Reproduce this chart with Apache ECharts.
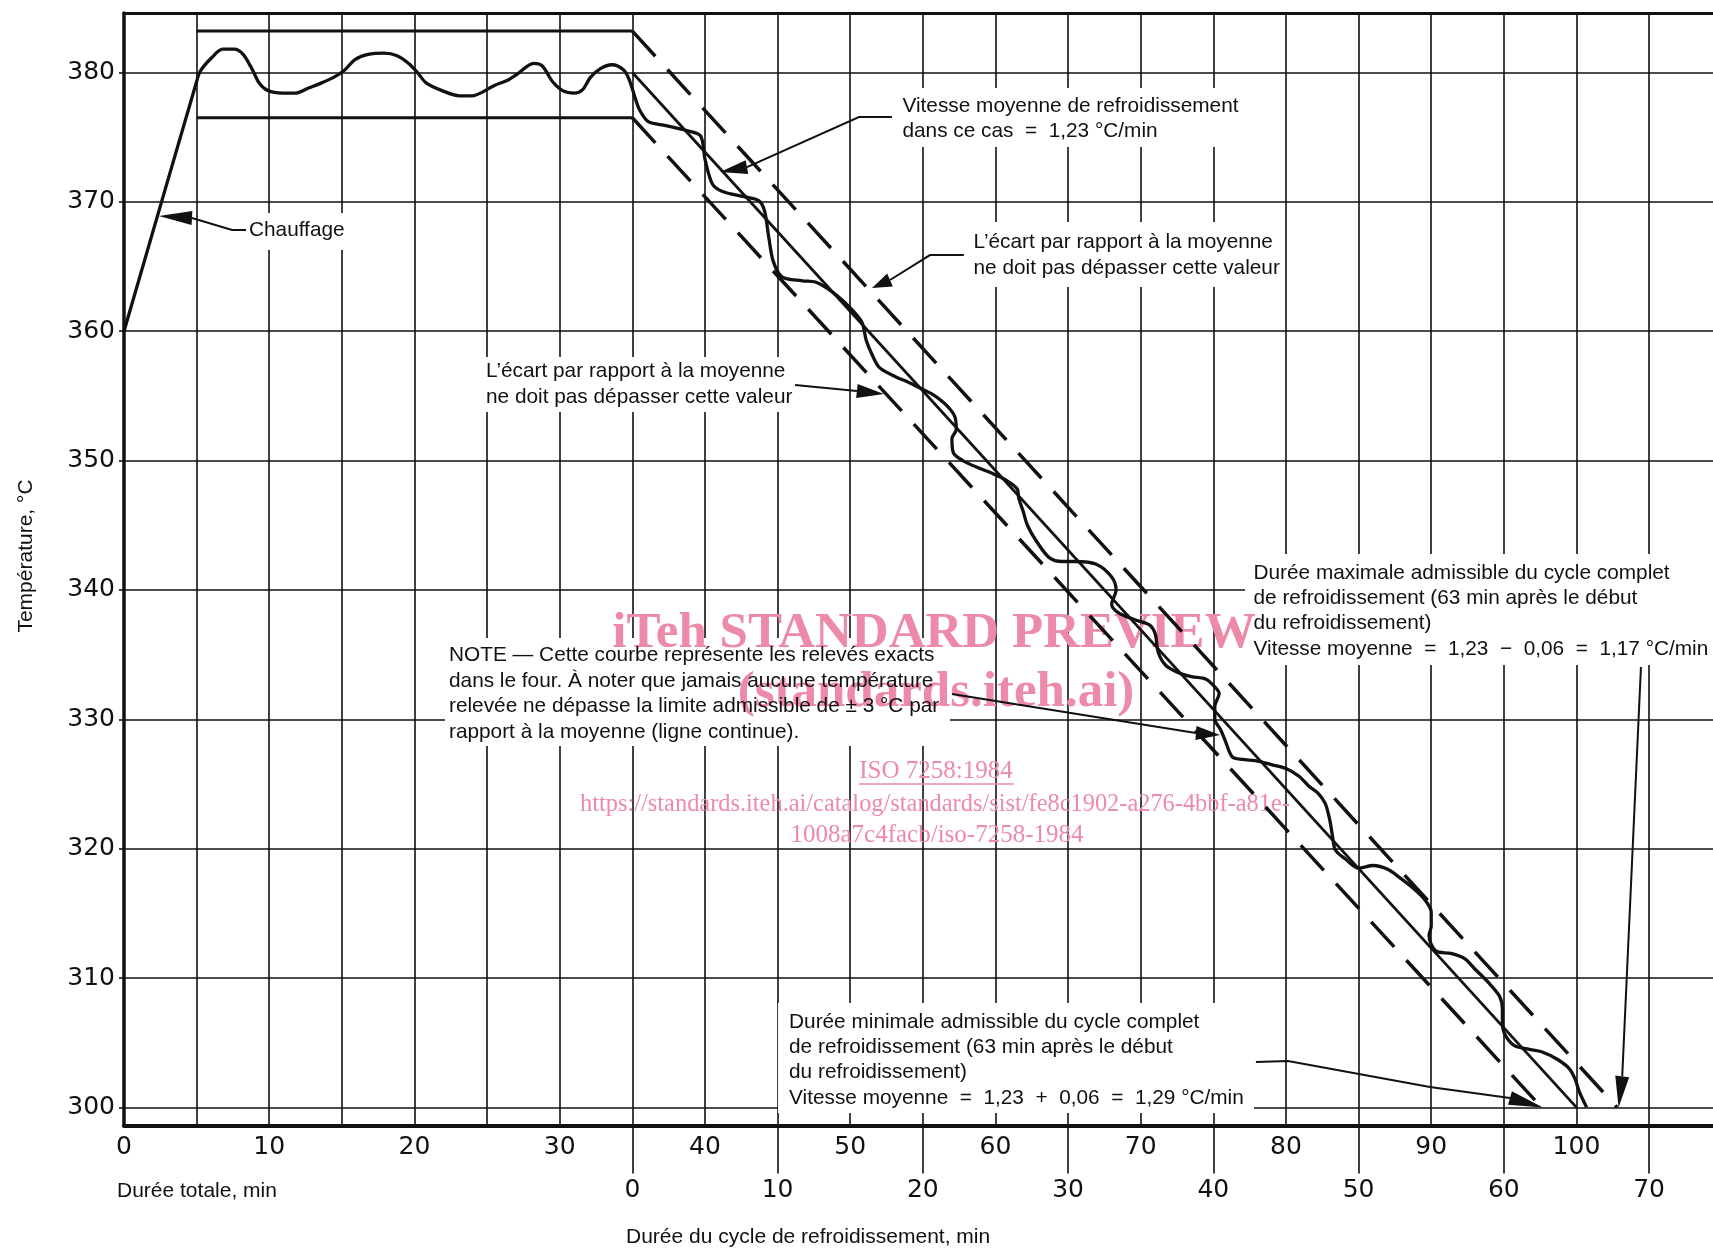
<!DOCTYPE html>
<html>
<head>
<meta charset="utf-8">
<title>Cycle de refroidissement</title>
<script src="https://cdn.jsdelivr.net/npm/echarts@6/dist/echarts.min.js"></script>
<style>
html, body { margin: 0; padding: 0; background: #fff; }
#main { width: 1713px; height: 1250px; }
</style>
</head>
<body>
<div id="main"></div>
<script>
var chartDom = document.getElementById('main');
var myChart = echarts.init(chartDom);
var option;

// axes
var tempTicks = [300, 310, 320, 330, 340, 350, 360, 370, 380];
var totalTicks = [0, 10, 20, 30, 40, 50, 60, 70, 80, 90, 100];
var coolTicks = [0, 10, 20, 30, 40, 50, 60, 70];
var coolStart = 35; // debut du refroidissement (duree totale, min)

// releve du four : [duree totale min, temperature °C]
var measured = [
  [0, 360], [5.0, 379.3], [5.25, 380.1], [6.0, 381.1], [6.8, 381.8], [7.6, 381.8],
  [8.2, 381.4], [8.8, 380.3], [9.3, 379.2], [9.9, 378.6], [10.9, 378.4], [11.8, 378.4],
  [12.7, 378.8], [13.6, 379.2], [14.4, 379.6], [15.2, 380.2], [15.9, 381.0], [16.8, 381.4],
  [17.9, 381.5], [18.8, 381.3], [19.6, 380.7], [20.2, 380.0], [20.8, 379.2], [21.9, 378.6],
  [23.1, 378.2], [24.0, 378.2], [24.7, 378.5], [25.5, 379.0], [26.4, 379.4], [27.1, 379.9],
  [28.2, 380.7], [28.8, 380.5], [29.5, 379.3], [30.2, 378.6], [31.0, 378.4], [31.6, 378.7],
  [32.1, 379.6], [32.8, 380.3], [33.6, 380.6], [34.4, 380.2], [34.8, 379.4], [35.2, 378.0],
  [35.5, 377.1], [36.1, 376.2], [37.3, 375.9], [38.8, 375.5], [39.7, 375.1], [40.0, 373.3],
  [40.5, 371.4], [41.2, 370.8], [42.7, 370.4], [43.7, 370.1], [44.1, 369.3], [44.4, 367.2],
  [44.7, 365.4], [45.3, 364.2], [46.7, 363.9], [47.6, 363.8], [48.8, 363.0], [50.0, 361.8],
  [50.8, 360.7], [51.1, 359.3], [51.5, 358.2], [52.0, 357.2], [52.9, 356.6], [54.1, 356.0],
  [55.0, 355.5], [55.7, 355.1], [56.6, 354.3], [57.2, 353.4], [57.3, 352.4], [57.0, 351.7],
  [57.1, 350.6], [57.75, 350.0], [58.9, 349.4], [59.8, 349.0], [60.7, 348.5], [61.5, 347.8],
  [61.6, 347.1], [61.9, 346.1], [62.2, 345.0], [62.8, 343.8], [63.7, 342.5], [64.6, 342.2],
  [65.5, 342.2], [66.9, 342.0], [68.0, 341.0], [68.3, 340.0], [68.0, 338.9], [68.5, 338.2],
  [69.6, 337.7], [70.6, 337.3], [71.0, 336.6], [71.2, 335.2], [71.7, 334.2], [72.6, 333.6],
  [73.5, 333.3], [74.5, 333.1], [75.1, 332.5], [75.4, 332.0], [75.1, 331.0], [75.1, 330.0],
  [75.5, 329.2], [75.8, 328.4], [76.3, 327.1], [77.0, 326.9], [77.9, 326.8], [79.0, 326.5],
  [80.0, 326.2], [80.9, 325.6], [81.6, 324.8], [82.2, 324.3], [82.7, 323.5], [83.0, 322.3],
  [83.2, 321.0], [83.4, 319.9], [84.1, 319.2], [85.0, 318.5], [86.0, 318.7], [87.0, 318.4],
  [87.9, 317.7], [88.8, 316.9], [89.6, 316.0], [90.0, 315.1], [90.0, 314.0], [89.85, 313.3],
  [90.3, 312.1], [91.35, 311.9], [92.3, 311.5], [93.0, 310.7], [93.9, 309.7], [94.7, 308.6],
  [94.9, 307.6], [94.9, 306.6], [95.05, 305.7], [95.7, 304.8], [96.7, 304.5], [97.6, 304.3],
  [98.7, 303.7], [99.5, 303.0], [99.9, 302.2], [100.2, 301.2], [100.7, 300.0]
];

// tolerance pendant le palier et pendant le refroidissement
var bandUpper = [[5, 383.2], [35, 383.2]];
var bandLower = [[5, 376.5], [35, 376.5]];
var meanLine = [[35, 380], [100, 300]];          // 1,23 °C/min
var limitUpper = [[35, 383.2], [102.8, 300]];
var limitLower = [[35, 376.5], [97.6, 300]];

// textes
var txtChauffage = ['Chauffage'];
var txtVitesse = ['Vitesse moyenne de refroidissement', 'dans ce cas  =  1,23 °C/min'];
var txtEcart = ["L\u2019\u00e9cart par rapport \u00e0 la moyenne", 'ne doit pas d\u00e9passer cette valeur'];
var txtNote = [
  'NOTE \u2014 Cette courbe repr\u00e9sente les relev\u00e9s exacts',
  'dans le four. \u00c0 noter que jamais aucune temp\u00e9rature',
  'relev\u00e9e ne d\u00e9passe la limite admissible de \u00b1 3 \u00b0C par',
  'rapport \u00e0 la moyenne (ligne continue).'
];
var txtMax = [
  'Dur\u00e9e maximale admissible du cycle complet',
  'de refroidissement (63 min apr\u00e8s le d\u00e9but',
  'du refroidissement)',
  'Vitesse moyenne  =  1,23  \u2212  0,06  =  1,17 \u00b0C/min'
];
var txtMin = [
  'Dur\u00e9e minimale admissible du cycle complet',
  'de refroidissement (63 min apr\u00e8s le d\u00e9but',
  'du refroidissement)',
  'Vitesse moyenne  =  1,23  +  0,06  =  1,29 \u00b0C/min'
];

// cartouches (coin haut gauche en unites du graphique)
var notes = [
  { at: [8.33, 369.14], w: 102, h: 37, pad: 4, first: 17.5, lh: 25, lines: txtChauffage },
  { at: [53.08, 378.80], w: 350, h: 59, pad: 7.5, first: 18, lh: 25, lines: txtVitesse },
  { at: [57.97, 368.44], w: 319, h: 65, pad: 7.5, first: 20.5, lh: 26, lines: txtEcart },
  { at: [24.51, 358.01], w: 315, h: 55, pad: 6, first: 14.5, lh: 26, lines: txtEcart },
  { at: [22.10, 336.28], w: 505, h: 108, pad: 4, first: 17.5, lh: 25.5, lines: txtNote },
  { at: [77.18, 342.78], w: 468, h: 111, pad: 8.5, first: 19, lh: 25.3, lines: txtMax },
  { at: [45.03, 308.07], w: 476, h: 110, pad: 11, first: 19, lh: 25.3, lines: txtMin }
];

// fleches de renvoi
var leaders = [
  { path: [[8.40, 367.82], [7.44, 367.82], [4.68, 368.75]], tip: [2.4, 368.9] },
  { path: [[52.87, 376.56], [50.60, 376.56], [42.89, 372.69]], tip: [41.03, 372.31] },
  { path: [[57.82, 365.89], [55.49, 365.89], [52.74, 363.96]], tip: [51.5, 363.34] },
  { path: [[46.20, 355.84], [50.46, 355.38]], tip: [52.32, 355.15] },
  { path: [[57.0, 331.96], [73.8, 328.94]], tip: [75.46, 328.79] },
  { path: [[104.44, 334.04], [103.15, 302.4]], tip: [102.9, 300.0] },
  { path: [[77.93, 303.51], [80.14, 303.58], [89.91, 301.57], [95.42, 300.72]], tip: [97.69, 300.0] }
];

var INK = '#111';
var SANS = '"Liberation Sans", Arial, sans-serif';
var PINK = '#ec8aa8';

function renderNoteBox(params, api) {
  var n = notes[params.dataIndex];
  var p = api.coord([api.value(0), api.value(1)]);
  return { type: 'rect', shape: { x: p[0], y: p[1], width: n.w, height: n.h }, style: { fill: '#fff' } };
}

function renderNoteText(params, api) {
  var n = notes[params.dataIndex];
  var p = api.coord([api.value(0), api.value(1)]);
  var kids = [];
  n.lines.forEach(function (s, i) {
    kids.push({
      type: 'text',
      style: {
        text: s, x: p[0] + n.pad, y: p[1] + n.first + i * n.lh,
        font: '20.8px ' + SANS, fill: INK,
        textAlign: 'left', textVerticalAlign: 'middle'
      }
    });
  });
  return { type: 'group', children: kids };
}

function renderLeader(params, api) {
  var L = leaders[params.dataIndex];
  var pts = L.path.map(function (q) { return api.coord(q); });
  var tip = api.coord([api.value(0), api.value(1)]);
  var base = pts[pts.length - 1];
  var dx = tip[0] - base[0], dy = tip[1] - base[1];
  var len = Math.sqrt(dx * dx + dy * dy) || 1;
  var nx = -dy / len * 7, ny = dx / len * 7;
  return {
    type: 'group',
    children: [
      { type: 'polyline', shape: { points: pts }, style: { stroke: INK, lineWidth: 2, fill: null } },
      { type: 'polygon', shape: { points: [tip, [base[0] + nx, base[1] + ny], [base[0] - nx, base[1] - ny]] }, style: { fill: INK } }
    ]
  };
}

function lineSeries(data, width, type) {
  return {
    type: 'line', data: data, showSymbol: false, symbol: 'none', z: 4,
    lineStyle: { color: INK, width: width, type: type || 'solid' }
  };
}

var tickFont = { color: INK, fontFamily: '"DejaVu Sans", sans-serif', fontSize: 25 };

option = {
  animation: false,
  backgroundColor: '#fff',
  grid: { left: 124, right: 0, top: 13, bottom: 124.5 },
  xAxis: [{
    type: 'value', min: 0, max: 109.4, interval: 5, position: 'bottom',
    axisLine: { show: true, lineStyle: { color: INK, width: 4 } },
    axisTick: { show: false },
    axisLabel: Object.assign({ customValues: totalTicks, margin: 9 }, tickFont),
    splitLine: { show: true, showMaxLine: false, lineStyle: { color: INK, width: 1.6 } }
  }, {
    type: 'value', min: 0, max: 109.4, position: 'bottom', offset: 0,
    axisLine: { show: false },
    axisTick: {
      show: true, length: 48, customValues: coolTicks.map(function (v) { return v + coolStart; }),
      lineStyle: { color: INK, width: 1.6 }
    },
    axisLabel: Object.assign({
      customValues: coolTicks.map(function (v) { return v + coolStart; }),
      formatter: function (v) { return String(Math.round(v - coolStart)); },
      margin: 52
    }, tickFont),
    splitLine: { show: false }
  }, {
    type: 'value', min: 0, max: 109.4, position: 'top',
    axisLine: { show: true, lineStyle: { color: INK, width: 3 } },
    axisTick: { show: false }, axisLabel: { show: false }, splitLine: { show: false }
  }],
  yAxis: {
    type: 'value', min: 298.6, max: 384.6,
    axisLine: { show: true, lineStyle: { color: INK, width: 3.5 } },
    axisTick: { show: true, length: 5, customValues: tempTicks, lineStyle: { color: INK, width: 1.6 } },
    axisLabel: Object.assign({ customValues: tempTicks, margin: 9 }, tickFont),
    splitLine: { show: true, lineStyle: { color: INK, width: 1.6 } }
  },
  graphic: [
    { type: 'text', x: 26, y: 556, rotation: Math.PI / 2,
      style: { text: 'Temp\u00e9rature, \u00b0C', font: '21px ' + SANS, fill: INK, textAlign: 'center', textVerticalAlign: 'middle' } },
    { type: 'text', x: 117, y: 1191,
      style: { text: 'Dur\u00e9e totale, min', font: '21px ' + SANS, fill: INK, textAlign: 'left', textVerticalAlign: 'middle' } },
    { type: 'text', x: 626, y: 1237,
      style: { text: 'Dur\u00e9e du cycle de refroidissement, min', font: '21px ' + SANS, fill: INK, textAlign: 'left', textVerticalAlign: 'middle' } },
    { type: 'text', x: 934, y: 634, z: 3,
      style: { text: 'iTeh STANDARD PREVIEW', font: 'bold 51px "Liberation Serif", serif', fill: PINK, textAlign: 'center', textVerticalAlign: 'middle' } },
    { type: 'text', x: 936, y: 693, z: 3,
      style: { text: '(standards.iteh.ai)', font: 'bold 51px "Liberation Serif", serif', fill: PINK, textAlign: 'center', textVerticalAlign: 'middle' } },
    { type: 'text', x: 936, y: 771, z: 3,
      style: { text: 'ISO 7258:1984', font: '25px "Liberation Serif", serif', fill: PINK, textAlign: 'center', textVerticalAlign: 'middle' } },
    { type: 'line', z: 3, shape: { x1: 859, y1: 784, x2: 1014, y2: 784 }, style: { stroke: PINK, lineWidth: 1.5 } },
    { type: 'text', x: 935, y: 805, z: 3,
      style: { text: 'https://standards.iteh.ai/catalog/standards/sist/fe8c1902-a276-4bbf-a81e-', font: '24.4px "Liberation Serif", serif', fill: PINK, textAlign: 'center', textVerticalAlign: 'middle' } },
    { type: 'text', x: 937, y: 835, z: 3,
      style: { text: '1008a7c4facb/iso-7258-1984', font: '25px "Liberation Serif", serif', fill: PINK, textAlign: 'center', textVerticalAlign: 'middle' } }
  ],
  series: [
    {
      type: 'custom', renderItem: renderNoteBox, z: 2, clip: false,
      data: notes.map(function (n) { return n.at; })
    },
    lineSeries(bandUpper, 3),
    lineSeries(bandLower, 3),
    lineSeries(meanLine, 2.8),
    lineSeries(limitUpper, 3.5, [34, 18]),
    lineSeries(limitLower, 3.5, [34, 18]),
    {
      type: 'line', data: measured, showSymbol: false, symbol: 'none', smooth: 0.3, z: 5,
      lineStyle: { color: INK, width: 3.3 }
    },
    {
      type: 'custom', renderItem: renderLeader, z: 6, clip: false,
      data: leaders.map(function (l) { return l.tip; })
    },
    {
      type: 'custom', renderItem: renderNoteText, z: 7, clip: false,
      data: notes.map(function (n) { return n.at; })
    }
  ]
};

myChart.setOption(option);
</script>
</body>
</html>
